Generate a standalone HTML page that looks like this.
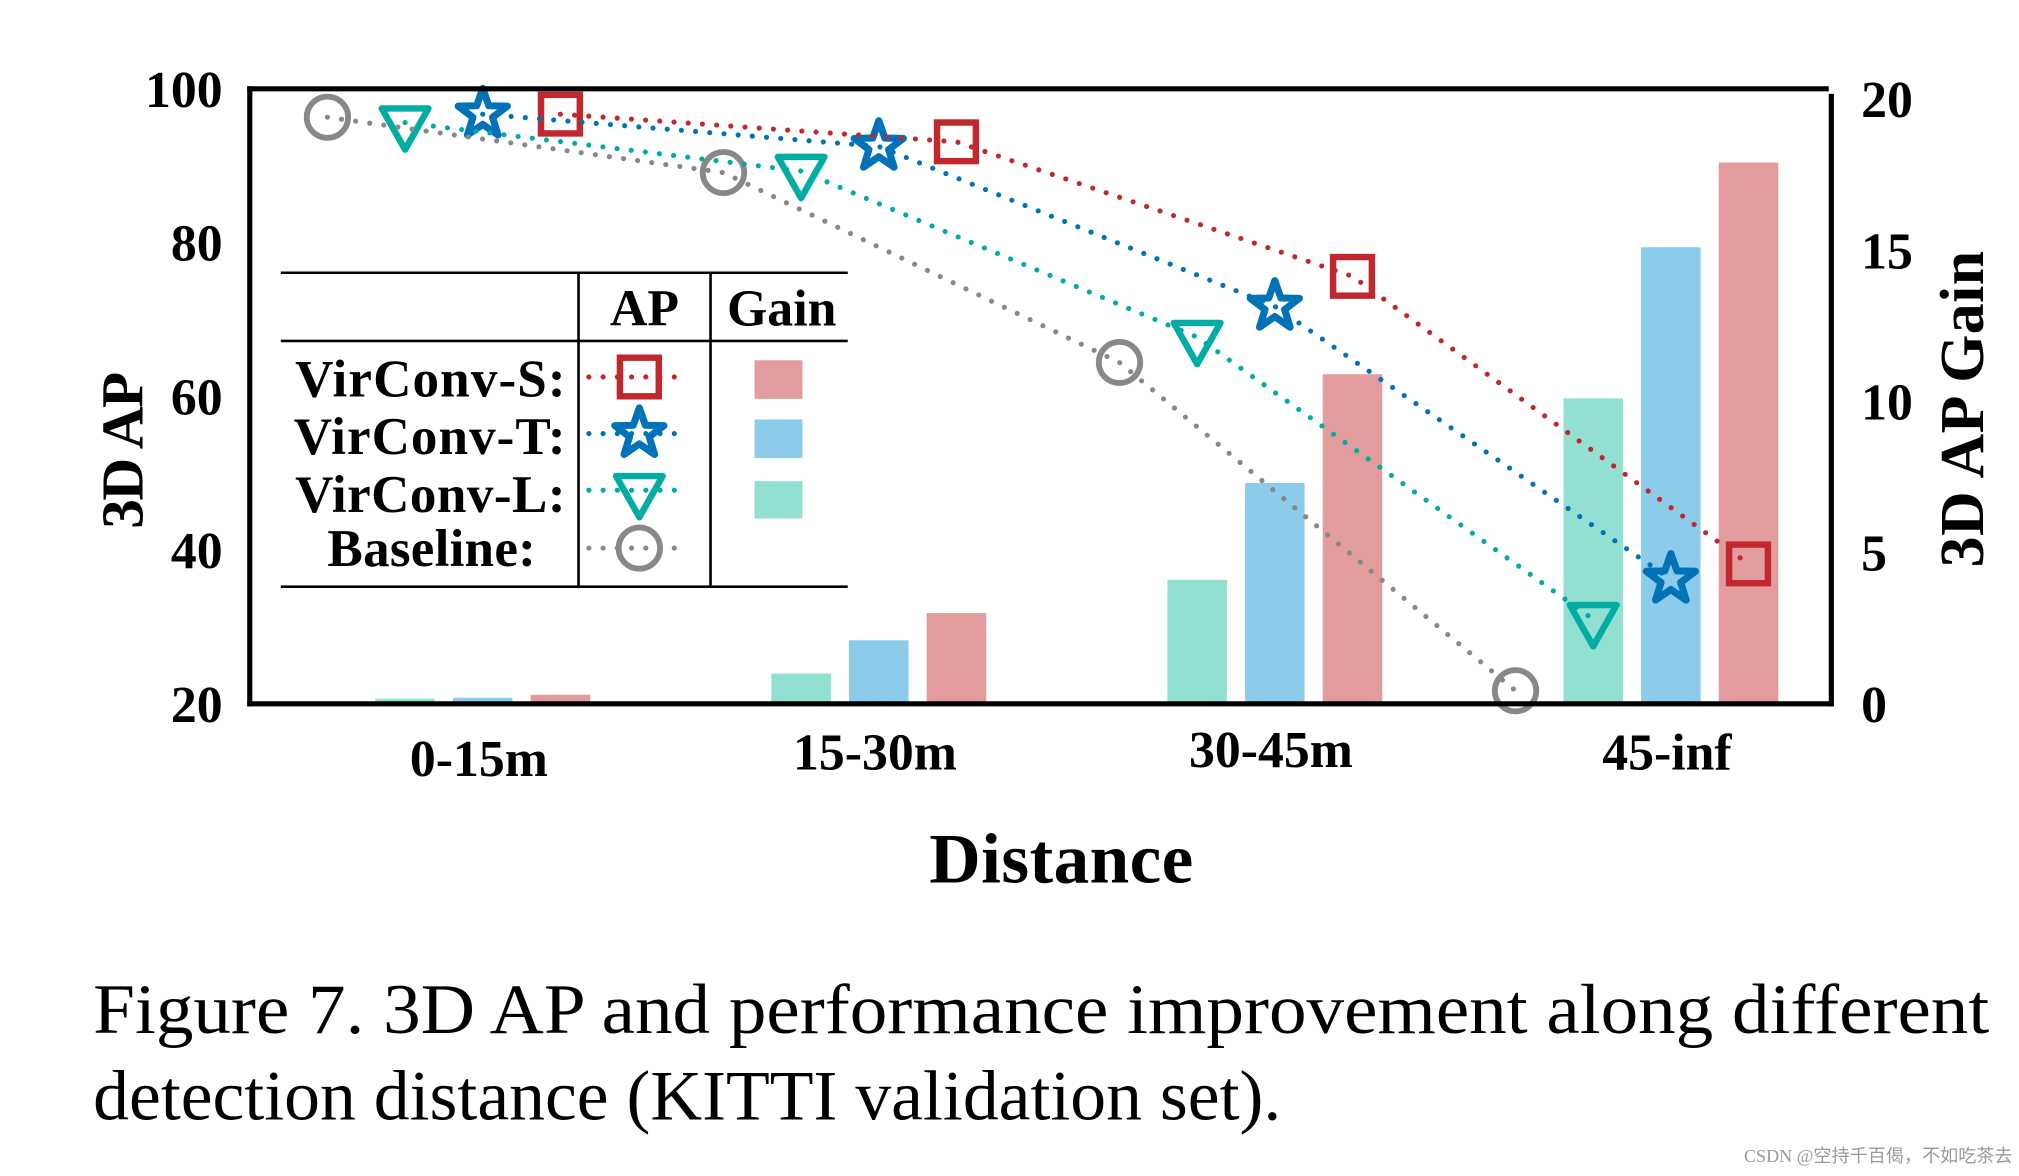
<!DOCTYPE html>
<html><head><meta charset="utf-8"><style>
html,body{margin:0;padding:0;background:#fff;}
svg{display:block;}
text{font-family:"Liberation Serif",serif;}
</style></head><body>
<svg id="chart" width="2019" height="1176" viewBox="0 0 1560 914" preserveAspectRatio="none" xmlns="http://www.w3.org/2000/svg">
<g id="bars"></g>
<g id="markers"></g>
<g id="lines"></g>
<g id="axes">
  <line x1="191" y1="547" x2="1417" y2="547" stroke="#000" stroke-width="4"/>
  <line x1="191" y1="69" x2="1413" y2="69" stroke="#000" stroke-width="4"/>
  <line x1="193" y1="67" x2="193" y2="549" stroke="#000" stroke-width="4"/>
  <line x1="1415" y1="73" x2="1415" y2="549" stroke="#000" stroke-width="4"/>
</g>
<g id="ticks"></g>
<text transform="translate(110,350) rotate(-90)" text-anchor="middle" font-size="46" font-weight="bold" textLength="122">3D AP</text>
<text transform="translate(1532,318) rotate(-90)" text-anchor="middle" font-size="48" font-weight="bold" textLength="246">3D AP Gain</text>
<text x="820" y="686" text-anchor="middle" font-size="55" font-weight="bold" textLength="204">Distance</text>
<g id="legend">
  <line x1="217" y1="212" x2="655" y2="212" stroke="#000" stroke-width="2"/>
  <line x1="217" y1="265" x2="655" y2="265" stroke="#000" stroke-width="2"/>
  <line x1="217" y1="456" x2="655" y2="456" stroke="#000" stroke-width="2"/>
  <line x1="447" y1="212" x2="447" y2="456" stroke="#000" stroke-width="2"/>
  <line x1="549" y1="212" x2="549" y2="456" stroke="#000" stroke-width="2"/>
  <text x="498" y="253" text-anchor="middle" font-size="40" font-weight="bold">AP</text>
  <text x="604" y="253" text-anchor="middle" font-size="40" font-weight="bold">Gain</text>
  <text x="228" y="308" font-size="41" font-weight="bold" textLength="209">VirConv-S:</text>
  <text x="227" y="353" font-size="41" font-weight="bold" textLength="210">VirConv-T:</text>
  <text x="228" y="398" font-size="41" font-weight="bold" textLength="209">VirConv-L:</text>
  <text x="253" y="440" font-size="41" font-weight="bold" textLength="161">Baseline:</text>
  <rect x="583" y="280" width="37" height="30" fill="#e39c9d"/>
  <rect x="583" y="326" width="37" height="30" fill="#8ccbea"/>
  <rect x="583" y="374" width="37" height="29" fill="#92e0d1"/>
  <g id="legendMarks"></g>
</g>
<text x="72" y="803" font-size="55" textLength="1465" lengthAdjust="spacingAndGlyphs">Figure 7.  3D AP and performance improvement along different</text>
<text x="72" y="870" font-size="55" textLength="918" lengthAdjust="spacingAndGlyphs">detection distance (KITTI validation set).</text>
<text x="1555" y="903" text-anchor="end" font-size="14" fill="#999" font-family="Liberation Sans, Noto Sans CJK SC, sans-serif">CSDN @空持千百偈，不如吃茶去</text>
</svg>
<script>
const categories = ["0-15m", "15-30m", "30-45m", "45-inf"];
const gainL = [0.17, 1.0, 4.1, 10.1];
const gainT = [0.2, 2.1, 7.3, 15.1];
const gainS = [0.3, 3.0, 10.9, 17.9];
const apBaseline = [96.3, 89.1, 64.4, 21.7];
const apL = [95.6, 89.3, 67.7, 31.0];
const apT = [96.7, 92.5, 71.7, 36.2];
const apS = [96.7, 93.1, 75.6, 38.2];
const leftTicks = [20, 40, 60, 80, 100];
const rightTicks = [0, 5, 10, 15, 20];

const NS = "http://www.w3.org/2000/svg";
const xCenter = i => 373 + i * 306;
const yLeft = v => 547 - (v - 20) * (478 / 80);
const yRight = v => 547 - v * (470 / 20);
function mk(tag, attrs, parent) {
  const e = document.createElementNS(NS, tag);
  for (const k in attrs) e.setAttribute(k, attrs[k]);
  parent.appendChild(e);
  return e;
}
const C = {S: "#c0282d", T: "#0072b8", L: "#00aca4", B: "#888888"};
const bars = document.getElementById("bars");
const barSeries = [[gainL, -60, "#92e0d1", "l"], [gainT, 0, "#8ccbea", "t"], [gainS, 60, "#e39c9d", "s"]];
barSeries.forEach(([vals, off, col, key]) => {
  vals.forEach((v, i) => {
    const y = yRight(v);
    const r = mk("rect", {x: xCenter(i) + off - 23, y: y, width: 46, height: 547 - y, fill: col}, bars);
    
    
  });
});
function drawMarker(type, cx, cy, parent, name) {
  let e;
  if (type === "S") e = mk("rect", {x: cx - 15, y: cy - 15, width: 30, height: 30, fill: "none", stroke: C.S, "stroke-width": 5}, parent);
  else if (type === "B") e = mk("circle", {cx: cx, cy: cy, r: 16, fill: "none", stroke: C.B, "stroke-width": 4.5}, parent);
  else if (type === "L") e = mk("polygon", {points: `${cx-18},${cy-11} ${cx+18},${cy-11} ${cx},${cy+21}`, fill: "none", stroke: C.L, "stroke-width": 5, "stroke-linejoin": "round"}, parent);
  else {
    let pts = [];
    for (let k = 0; k < 10; k++) {
      const a = -Math.PI / 2 + k * Math.PI / 5, r = k % 2 ? 8 : 20;
      pts.push((cx + r * Math.cos(a)).toFixed(1) + "," + (cy + r * Math.sin(a)).toFixed(1));
    }
    e = mk("polygon", {points: pts.join(" "), fill: "none", stroke: C.T, "stroke-width": 5.5, "stroke-linejoin": "round"}, parent);
  }
  
  
}
const markers = document.getElementById("markers");
const lines = document.getElementById("lines");
const series = [["B", apBaseline, -120], ["L", apL, -60], ["T", apT, 0], ["S", apS, 60]];
series.forEach(([t, vals, off]) => {
  const pts = vals.map((v, i) => [xCenter(i) + off, yLeft(v)]);
  pts.forEach((p, i) => drawMarker(t, p[0], p[1], markers, 'marker-' + t.toLowerCase() + '-' + categories[i]));
  const pl = mk("polyline", {points: pts.map(p => p.join(",")).join(" "), fill: "none", stroke: C[t], "stroke-width": 4, "stroke-linecap": "round", "stroke-dasharray": "0 11"}, lines);
  
  
});
const ticks = document.getElementById("ticks");
leftTicks.forEach(v => {
  const t = mk("text", {x: 172, y: yLeft(v) + 14, "text-anchor": "end", "font-size": 40, "font-weight": "bold"}, ticks);
  t.textContent = v;
  
  
});
rightTicks.forEach(v => {
  const t = mk("text", {x: 1438, y: yRight(v) + 14, "font-size": 40, "font-weight": "bold"}, ticks);
  t.textContent = v;
  
  
});
const xLabY = [603, 598, 596, 598];
categories.forEach((c, i) => {
  const t = mk("text", {x: xCenter(i) - 3, y: xLabY[i], "text-anchor": "middle", "font-size": 40, "font-weight": "bold"}, ticks);
  t.textContent = c;
  
  
});
const lm = document.getElementById("legendMarks");
[["S", 293], ["T", 337], ["L", 381], ["B", 426]].forEach(([t, y]) => {
  const l = mk("line", {x1: 455, y1: y, x2: 522, y2: y, stroke: C[t], "stroke-width": 4, "stroke-linecap": "round", "stroke-dasharray": "0 11"}, lm);
  
  
  drawMarker(t, 494, y, lm, 'legend-marker-' + t.toLowerCase());
});
</script>
</body></html>
